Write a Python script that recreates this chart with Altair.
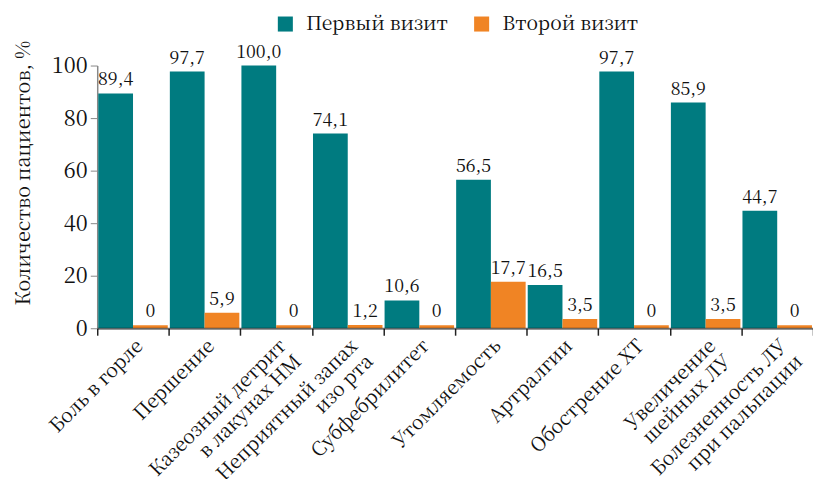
import altair as alt
import pandas as pd

categories = [
    "Боль в горле",
    "Першение",
    "Казеозный детрит|в лакунах НМ",
    "Неприятный запах|изо рта",
    "Субфебрилитет",
    "Утомляемость",
    "Артралгии",
    "Обострение ХТ",
    "Увеличение|шейных ЛУ",
    "Болезненность ЛУ|при пальпации",
]
series = ["Первый визит", "Второй визит"]
first_visit = [89.4, 97.7, 100.0, 74.1, 10.6, 56.5, 16.5, 97.7, 85.9, 44.7]
second_visit = [0, 5.9, 0, 1.2, 0, 17.7, 3.5, 0, 3.5, 0]
colors = ["#007b80", "#f08424"]
y_ticks = [0, 20, 40, 60, 80, 100]

rows = []
for c, a, b in zip(categories, first_visit, second_visit):
    rows.append({"cat": c, "series": series[0], "v": a})
    rows.append({"cat": c, "series": series[1], "v": b})
df = pd.DataFrame(rows)

FONT = "Noto Serif CJK SC"

x_enc = alt.X(
    "cat:N",
    sort=categories,
    scale=alt.Scale(paddingInner=0, paddingOuter=0),
    axis=alt.Axis(
        title=None,
        labelAngle=-45,
        labelExpr="split(datum.label, '|')",
        labelFont=FONT,
        labelFontSize=19.5,
        labelColor="#111",
        labelLineHeight=22,
        labelLimit=400,
        labelOffset=0,
        tickBand="extent",
        tickSize=7,
        tickColor="#222",
        tickWidth=1.5,
        domainColor="#000",
        domainOpacity=0.55,
        domainWidth=2,
        labelPadding=1,
        zindex=1,
    ),
)
xoff = alt.XOffset("series:N", sort=series, scale=alt.Scale(paddingOuter=0.03, paddingInner=0))

base = alt.Chart(df).transform_calculate(
    disp="max(datum.v, 1.1)",
    lab="datum.v == 0 ? '0' : replace(format(datum.v, '.1f'), '.', ',')",
)

bars = base.mark_bar().encode(
    x=x_enc,
    xOffset=xoff,
    y=alt.Y(
        "disp:Q",
        scale=alt.Scale(domain=[0, 100], nice=False),
        axis=alt.Axis(
            values=y_ticks,
            title="Количество пациентов, %",
            titleFont=FONT,
            titleFontSize=20,
            titleFontWeight="normal",
            titleColor="#111",
            titleX=-64,
            titleY=108,
            titleAngle=-90,
            labelFont=FONT,
            labelFontSize=22,
            labelColor="#111",
            grid=False,
            tickSize=7,
            tickColor="#888",
            domainColor="#888",
            domainWidth=1.5,
            labelPadding=3,
        ),
    ),
    color=alt.Color(
        "series:N",
        sort=series,
        scale=alt.Scale(domain=series, range=colors),
        legend=alt.Legend(
            title=None,
            orient="none",
            direction="horizontal",
            legendX=180,
            legendY=-52,
            symbolType="square",
            symbolSize=230,
            symbolStrokeWidth=0,
            labelFont=FONT,
            labelFontSize=19.5,
            labelColor="#111",
            labelOffset=11,
            columnPadding=24,
        ),
    ),
)

labels = base.mark_text(baseline="bottom", dy=-4, font=FONT, fontSize=18, color="#111").encode(
    x=alt.X("cat:N", sort=categories),
    xOffset=xoff,
    y=alt.Y("disp:Q"),
    text="lab:N",
)

chart = (
    alt.layer(bars, labels)
    .properties(
        width=722,
        height=265,
        autosize=alt.AutoSizeParams(type="none"),
        padding={"left": 90, "top": 56, "right": 0, "bottom": 150},
    )
    .configure_view(stroke=None)
)

chart.save("out.html", embed_options={"renderer": "svg", "actions": False})
